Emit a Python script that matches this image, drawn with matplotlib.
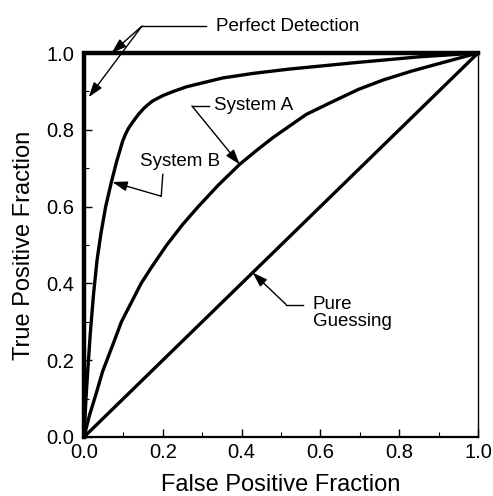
import numpy as np
import matplotlib
matplotlib.use("Agg")
import matplotlib.pyplot as plt
from matplotlib.ticker import MultipleLocator

plt.rcParams['font.family'] = ['Liberation Sans', 'DejaVu Sans']

# ROC curves (false positive fraction, true positive fraction)
fpf_b = [0, 0.005, 0.010, 0.016, 0.024, 0.033, 0.043, 0.055, 0.070, 0.083,
         0.098, 0.105, 0.113, 0.125, 0.138, 0.152, 0.163, 0.174, 0.200, 0.227,
         0.260, 0.300, 0.352, 0.430, 0.520, 0.690, 0.850, 1.0]
tpf_b = [0, 0.100, 0.180, 0.270, 0.370, 0.460, 0.530, 0.600, 0.666, 0.718,
         0.770, 0.788, 0.804, 0.822, 0.840, 0.856, 0.866, 0.875, 0.889, 0.900,
         0.912, 0.922, 0.935, 0.947, 0.958, 0.975, 0.990, 1.0]

fpf_a = [0, 0.014, 0.030, 0.047, 0.076, 0.095, 0.120, 0.145, 0.170, 0.210,
         0.250, 0.290, 0.340, 0.395, 0.440, 0.480, 0.564, 0.620, 0.696, 0.760,
         0.832, 0.910, 1.0]
tpf_a = [0, 0.057, 0.110, 0.170, 0.248, 0.300, 0.350, 0.400, 0.440, 0.500,
         0.553, 0.600, 0.655, 0.710, 0.748, 0.780, 0.840, 0.868, 0.905, 0.930,
         0.953, 0.975, 1.0]

fpf_guess = [0, 1.0]
tpf_guess = [0, 1.0]

fpf_perfect = [0, 0, 1.0]
tpf_perfect = [0, 1.0, 1.0]

ticks = [0.0, 0.2, 0.4, 0.6, 0.8, 1.0]
tick_labels = ['0.0', '0.2', '0.4', '0.6', '0.8', '1.0']

fig = plt.figure(figsize=(4.93, 4.96), dpi=100)
ax = fig.add_axes([84 / 493, 59 / 496, 394 / 493, 384 / 496])

ax.plot(fpf_perfect, tpf_perfect, color='k', lw=3.2, clip_on=False,
        solid_joinstyle='miter', zorder=4)
for fx, ty in [(fpf_b, tpf_b), (fpf_a, tpf_a), (fpf_guess, tpf_guess)]:
    ax.plot(fx, ty, color='k', lw=2.4, clip_on=False, zorder=3,
            solid_joinstyle='round')

ax.set_xlim(0, 1)
ax.set_ylim(0, 1)
ax.set_xticks(ticks)
ax.set_xticklabels(tick_labels)
ax.set_yticks(ticks)
ax.set_yticklabels(tick_labels)
ax.xaxis.set_minor_locator(MultipleLocator(0.1))
ax.yaxis.set_minor_locator(MultipleLocator(0.1))
ax.tick_params(which='major', direction='in', length=6, width=1,
               labelsize=14.5, top=False, right=False)
ax.tick_params(which='minor', direction='in', length=3.5, width=0.8,
               top=False, right=False)
ax.tick_params(axis='x', pad=4)
ax.tick_params(axis='y', pad=7)

ax.spines['bottom'].set_linewidth(1.6)
ax.spines['right'].set_linewidth(1.0)
ax.spines['left'].set_linewidth(1.6)
ax.spines['top'].set_linewidth(1.6)

ax.set_xlabel('False Positive Fraction', fontsize=17, labelpad=9)
ax.set_ylabel('True Positive Fraction', fontsize=17, labelpad=8)

arrow = dict(arrowstyle='-|>,head_length=0.9,head_width=0.3', lw=1,
             color='k', shrinkA=0, shrinkB=0)
line_kw = dict(color='k', lw=1, clip_on=False)
txt_kw = dict(fontsize=13.5, va='center', ha='left')

# Perfect Detection
ax.plot([0.147, 0.31], [1.07, 1.07], **line_kw)
ax.annotate('', xy=(0.07, 1.0), xytext=(0.147, 1.07), arrowprops=arrow,
            annotation_clip=False)
ax.annotate('', xy=(0.012, 0.885), xytext=(0.147, 1.07), arrowprops=arrow,
            annotation_clip=False)
ax.text(0.335, 1.07, 'Perfect Detection', **txt_kw)

# System A
ax.plot([0.274, 0.317], [0.862, 0.862], **line_kw)
ax.annotate('', xy=(0.395, 0.71), xytext=(0.274, 0.862), arrowprops=arrow)
ax.text(0.33, 0.862, 'System A', **txt_kw)

# System B
ax.plot([0.200, 0.196], [0.684, 0.627], **line_kw)
ax.annotate('', xy=(0.072, 0.664), xytext=(0.196, 0.627), arrowprops=arrow)
ax.text(0.143, 0.718, 'System B', **txt_kw)

# Pure Guessing
ax.plot([0.513, 0.555], [0.345, 0.345], **line_kw)
ax.annotate('', xy=(0.428, 0.428), xytext=(0.513, 0.345), arrowprops=arrow)
ax.text(0.58, 0.322, 'Pure\nGuessing', linespacing=1.0, **txt_kw)

fig.savefig('out.png', dpi=100)
